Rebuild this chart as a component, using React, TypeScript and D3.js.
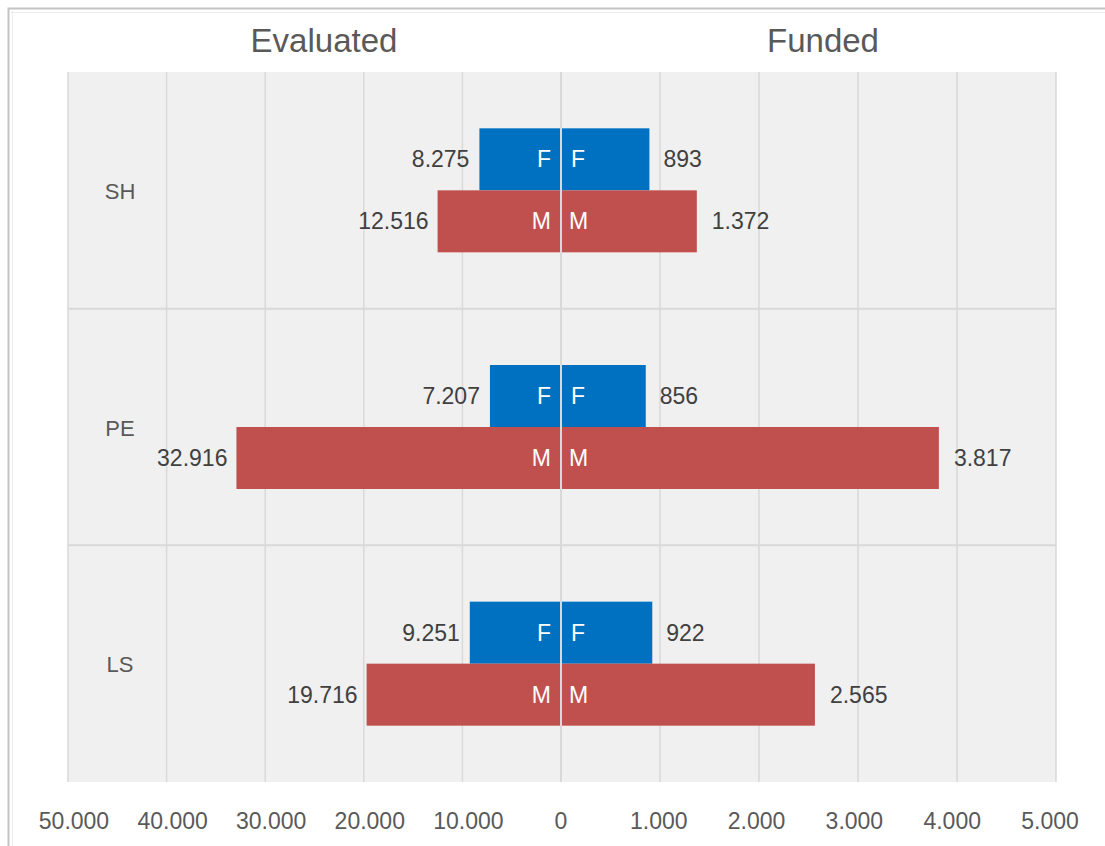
import React from "react";
import * as d3 from "d3";

const categories = ["SH", "PE", "LS"];
const evaluatedF = [8275, 7207, 9251];
const evaluatedM = [12516, 32916, 19716];
const fundedF = [893, 856, 922];
const fundedM = [1372, 3817, 2565];
const leftTicks = [50000, 40000, 30000, 20000, 10000];
const rightTicks = [0, 1000, 2000, 3000, 4000, 5000];

const W = 1105;
const H = 846;
const plotLeft = 68;
const plotRight = 1056;
const center = 561;
const plotTop = 72;
const plotBottom = 782;

const BLUE = "#0070C0";
const RED = "#C0504D";
const GRID = "#d9d9d9";
const BG = "#f0f0f0";
const TXT = "#404040";
const FONT = "'Liberation Sans', Arial, sans-serif";

const fmt = (v: number) => d3.format(",")(v).replace(/,/g, ".");

export default function App() {
  const xL = d3.scaleLinear().domain([0, 50000]).range([center, plotLeft]);
  const xR = d3.scaleLinear().domain([0, 5000]).range([center, plotRight]);
  const yBand = d3.scaleBand().domain(categories).range([plotTop, plotBottom]);
  const bw = yBand.bandwidth();
  const barH = 62;

  return (
    <svg width={W} height={H} style={{ position: "absolute", left: 0, top: 0, fontFamily: FONT }}>
      <rect x={0} y={0} width={W} height={H} fill="#fff" />
      <rect x={8.5} y={8.5} width={W + 20} height={H + 20} fill="none" stroke="#c4c4c4" strokeWidth={2} />
      <line x1={12.5} x2={12.5} y1={11} y2={846} stroke="#ececec" strokeWidth={1} />
      <line x1={11} x2={W} y1={12.5} y2={12.5} stroke="#ececec" strokeWidth={1} />
      <rect x={plotLeft} y={plotTop} width={plotRight - plotLeft} height={plotBottom - plotTop} fill={BG} />
      {leftTicks.map((t) => (
        <line key={"gl" + t} x1={xL(t)} x2={xL(t)} y1={plotTop} y2={plotBottom} stroke={GRID} strokeWidth={1.5} />
      ))}
      {rightTicks.map((t) => (
        <line key={"gr" + t} x1={xR(t)} x2={xR(t)} y1={plotTop} y2={plotBottom} stroke={GRID} strokeWidth={1.5} />
      ))}
      {categories.slice(1).map((c) => (
        <line key={"sep" + c} x1={plotLeft} x2={plotRight} y1={yBand(c)!} y2={yBand(c)!} stroke={GRID} strokeWidth={2} />
      ))}
      {categories.map((c, i) => {
        const cy = yBand(c)! + bw / 2;
        const yF = cy - barH;
        const yM = cy;
        return (
          <g key={c}>
            <text x={120} y={cy + 1} textAnchor="middle" dominantBaseline="central" fontSize={22} fill="#595959">{c}</text>
            <rect x={xL(evaluatedF[i])} y={yF} width={center - xL(evaluatedF[i])} height={barH} fill={BLUE} />
            <rect x={center} y={yF} width={xR(fundedF[i]) - center} height={barH} fill={BLUE} />
            <rect x={xL(evaluatedM[i])} y={yM} width={center - xL(evaluatedM[i])} height={barH} fill={RED} />
            <rect x={center} y={yM} width={xR(fundedM[i]) - center} height={barH} fill={RED} />
            <text x={center - 10} y={yF + barH / 2} textAnchor="end" dominantBaseline="central" fontSize={23} fill="#fff">F</text>
            <text x={center + 10} y={yF + barH / 2} textAnchor="start" dominantBaseline="central" fontSize={23} fill="#fff">F</text>
            <text x={center - 10} y={yM + barH / 2} textAnchor="end" dominantBaseline="central" fontSize={23} fill="#fff">M</text>
            <text x={center + 8} y={yM + barH / 2} textAnchor="start" dominantBaseline="central" fontSize={23} fill="#fff">M</text>
            <text x={xL(evaluatedF[i]) - 10} y={yF + barH / 2} textAnchor="end" dominantBaseline="central" fontSize={23} fill={TXT}>{fmt(evaluatedF[i])}</text>
            <text x={xL(evaluatedM[i]) - 9} y={yM + barH / 2} textAnchor="end" dominantBaseline="central" fontSize={23} fill={TXT}>{fmt(evaluatedM[i])}</text>
            <text x={xR(fundedF[i]) + 14} y={yF + barH / 2} textAnchor="start" dominantBaseline="central" fontSize={23} fill={TXT}>{fmt(fundedF[i])}</text>
            <text x={xR(fundedM[i]) + 15} y={yM + barH / 2} textAnchor="start" dominantBaseline="central" fontSize={23} fill={TXT}>{fmt(fundedM[i])}</text>
          </g>
        );
      })}
      <line x1={center} x2={center} y1={plotTop} y2={plotBottom} stroke={GRID} strokeWidth={2} />
      {leftTicks.map((t) => (
        <text key={"tl" + t} x={xL(t) + 6} y={821} textAnchor="middle" dominantBaseline="central" fontSize={23} fill="#595959">{fmt(t)}</text>
      ))}
      {rightTicks.map((t) => (
        <text key={"tr" + t} x={xR(t) - t / 1000 * 1.2} y={821} textAnchor="middle" dominantBaseline="central" fontSize={23} fill="#595959">{fmt(t)}</text>
      ))}
      <text x={324} y={40} textAnchor="middle" dominantBaseline="central" fontSize={33} fill="#595959">Evaluated</text>
      <text x={823} y={40} textAnchor="middle" dominantBaseline="central" fontSize={33} fill="#595959">Funded</text>
    </svg>
  );
}
